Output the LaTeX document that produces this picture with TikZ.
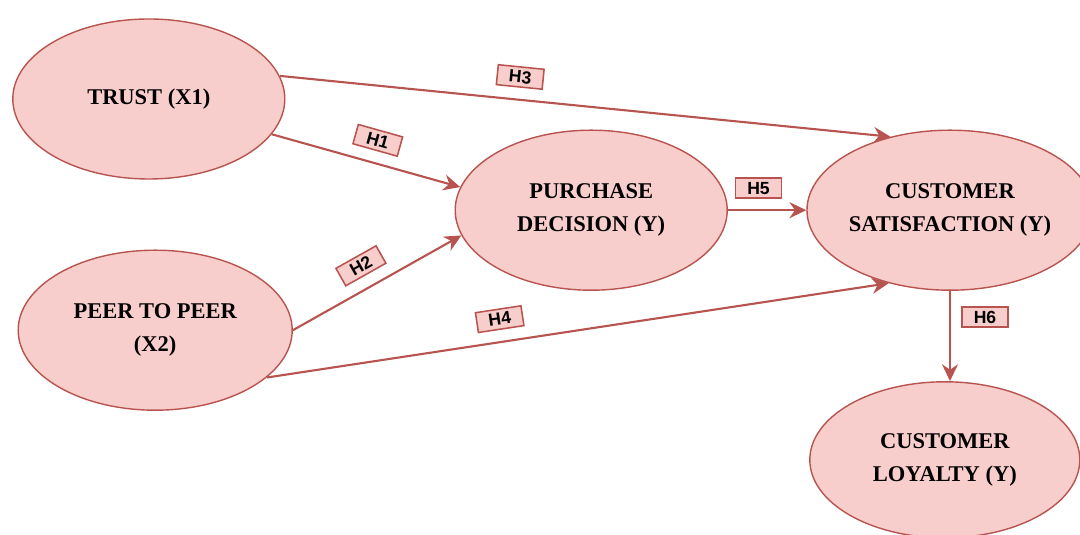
\documentclass[tikz,border=0pt]{standalone}
\usepackage{fontspec}
\setmainfont{Liberation Serif}
\setsansfont{Liberation Sans}
\usetikzlibrary{shapes.geometric,arrows.meta}

\definecolor{pinkfill}{HTML}{F8CECC}
\definecolor{reddraw}{HTML}{B85450}

\tikzset{
	var/.style = {ellipse, draw = reddraw, fill = pinkfill, line width = 1pt,
		minimum width = 6.8cm, minimum height = 4cm, inner sep = 0pt, align = center,
		font = \fontsize{16}{23.5}\selectfont\bfseries},
	hyp/.style = {draw = reddraw, line width = 1.5pt, -{Stealth[length=0.42cm, width=0.4cm]}},
	hlabel/.style = {draw = reddraw, fill = pinkfill, line width = 1.1pt, minimum width = 1.15cm,
		minimum height = 0.5cm, inner sep = 1pt, font = \sffamily\bfseries\fontsize{12.5}{12.5}\selectfont, text = black}
}

\begin{document}
\begin{tikzpicture}
	\useasboundingbox (0,0) rectangle (27,13.375);
	\node[var] (trust) at (3.72,10.9) {TRUST (X1)};
	\node[var, minimum width = 6.85cm] (peer) at (3.88,5.12) {PEER TO PEER\\(X2)};
	\node[var] (purchase) at (14.78,8.12) {PURCHASE\\DECISION (Y)};
	\node[var, minimum width = 6.55cm] (satis) at (23.75,8.12) {CUSTOMER\\SATISFACTION (Y)};
	\node[var, minimum width = 6.75cm, minimum height = 3.9cm] (loyal) at (23.62,1.88) {CUSTOMER\\LOYALTY (Y)};

	\draw[hyp] (trust.-16) -- node[hlabel, pos = 0.53, sloped, above = 0.3cm] {H1} (purchase.170);
	\draw[hyp] (peer.0) -- node[hlabel, pos = 0.47, sloped, above = 0.3cm] {H2} (purchase.191);
	\draw[hyp] (trust.10) -- node[hlabel, pos = 0.39, sloped, above = 0.3cm] {H3} (satis.129);
	\draw[hyp] (peer.-23) -- node[hlabel, pos = 0.38, sloped, above = 0.3cm] {H4} (satis.230);
	\draw[hyp] (purchase.east) -- node[hlabel, pos = 0.39, above = 0.28cm] {H5} (satis.west);
	\draw[hyp] (satis.south) -- node[hlabel, pos = 0.29, right = 0.28cm] {H6} (satis.south |- loyal.north);
\end{tikzpicture}
\end{document}
